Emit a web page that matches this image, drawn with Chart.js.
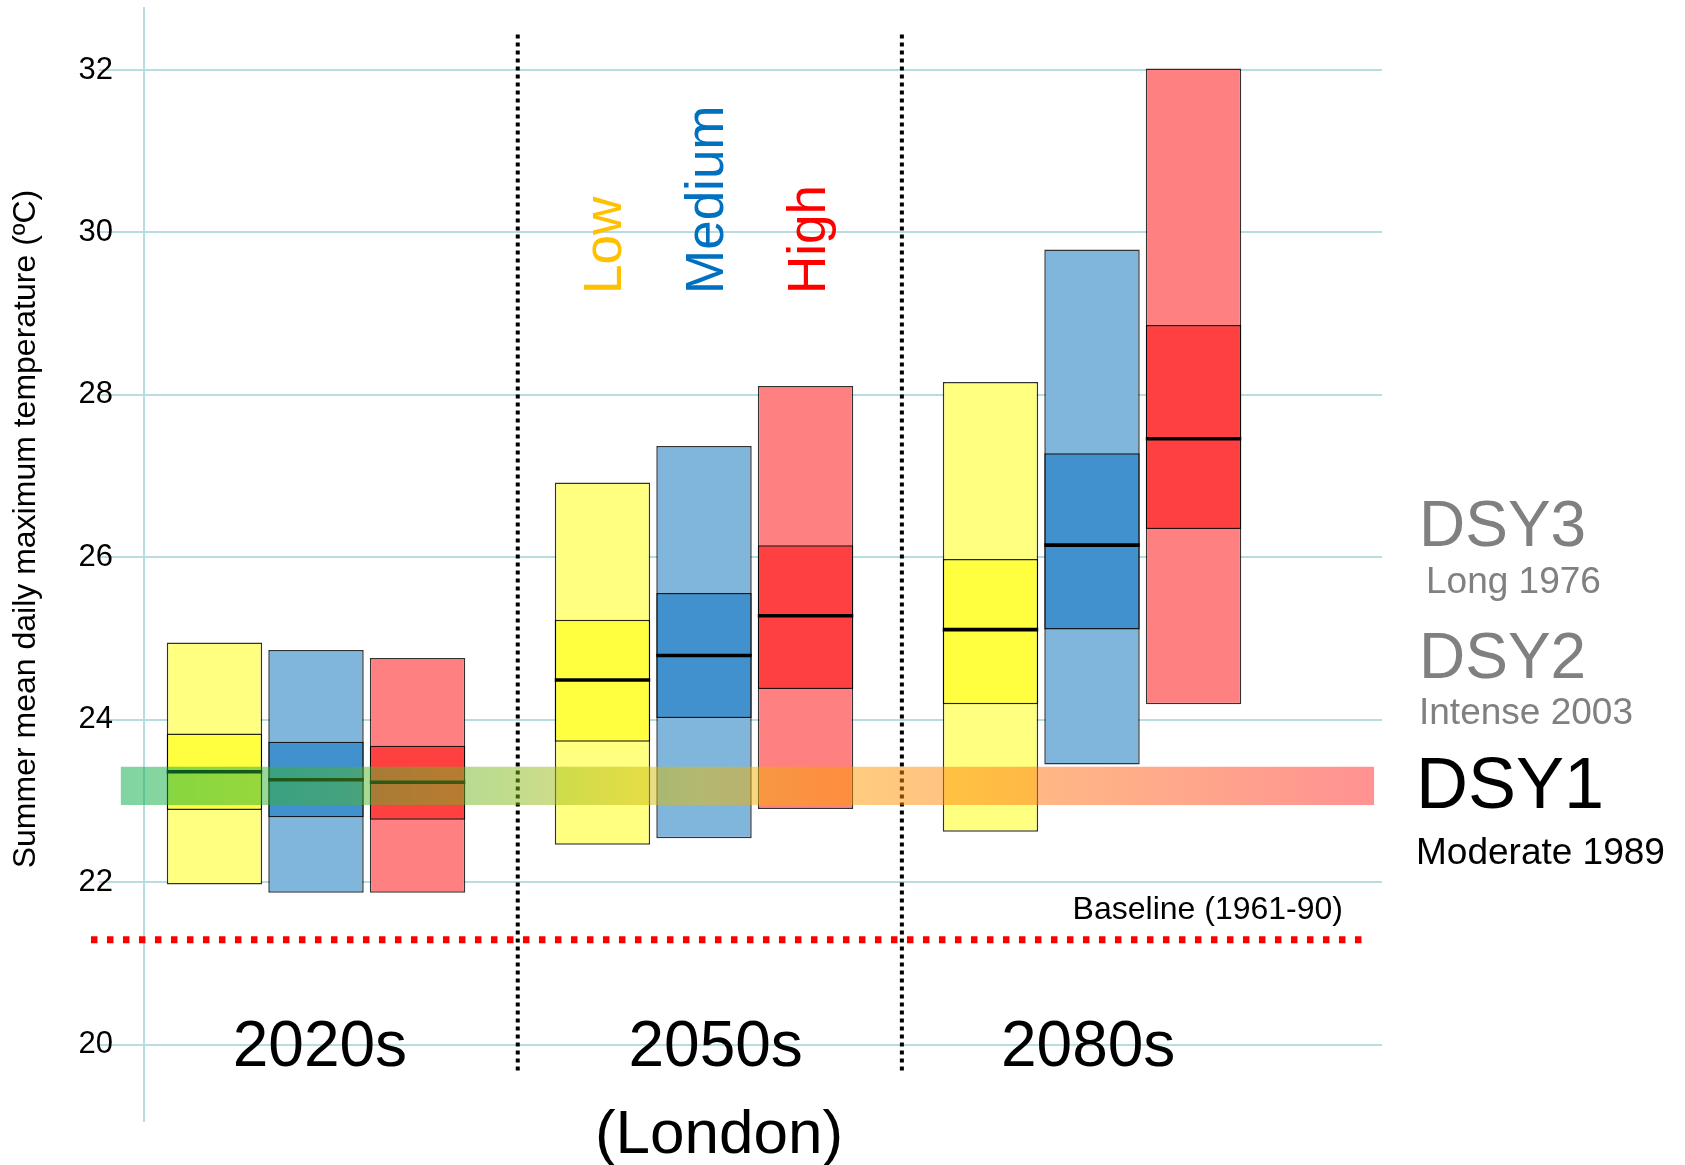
<!DOCTYPE html>
<html>
<head>
<meta charset="utf-8">
<script src="https://cdn.jsdelivr.net/npm/chart.js@4.4.1/dist/chart.umd.min.js"></script>
<style>
  html, body { margin: 0; padding: 0; background: #fff; }
  #wrap { width: 1685px; height: 1165px; position: relative; }
</style>
</head>
<body>
<div id="wrap"><canvas id="chart"></canvas></div>
<script>
// --- Data ---
const periods = ['2020s', '2050s', '2080s'];
const periodX = [1, 2, 3];
const periodLabelX = [1.01, 2.03, 2.99];
const scenarios = ['Low', 'Medium', 'High'];

// full range (light bars) per period
const lowRange = [[21.97, 24.95], [22.46, 26.92], [22.62, 28.16]];
const mediumRange = [[21.87, 24.86], [22.54, 27.37], [23.45, 29.79]];
const highRange = [[21.87, 24.76], [22.90, 28.11], [24.19, 32.02]];

// central range (dark bars)
const lowCore = [[22.89, 23.83], [23.73, 25.23], [24.19, 25.98]];
const mediumCore = [[22.80, 23.73], [24.02, 25.56], [25.11, 27.28]];
const highCore = [[22.77, 23.68], [24.38, 26.15], [26.35, 28.86]];

// central estimate (black line)
const lowMedian = [23.36, 24.49, 25.11];
const mediumMedian = [23.26, 24.79, 26.15];
const highMedian = [23.23, 25.28, 27.46];

const baselineTemp = 21.29;
const baselineSpan = [0.42, 3.70];
const dsy1Band = [22.95, 23.42];
const dsy1Span = [0.497, 3.727];
const dividerX = [1.52, 2.51];
const dividerSpan = [19.68, 32.44];
const yTicks = [20, 22, 24, 26, 28, 30, 32];

const yTitle = 'Summer mean daily maximum temperature (ºC)';
const xTitle = '(London)';
const baselineLabel = 'Baseline (1961-90)';

// --- Styles ---
const FONT = '"Liberation Sans", Arial, sans-serif';
const outerColors = ['#ffff80', '#80b5dc', '#ff8080'];
const innerColors = ['#ffff40', '#4091ce', '#ff4040'];
const labelColors = ['#ffc000', '#0070c0', '#ff0000'];
const gridColor = '#b7dde0';

const ranges = [lowRange, mediumRange, highRange];
const cores = [lowCore, mediumCore, highCore];
const medians = [lowMedian, mediumMedian, highMedian];
const medianHalf = 0.022;

const datasets = [];

// each scenario's range, core and median share one bar slot (stack id)
scenarios.forEach((name, i) => {
    datasets.push({
        type: 'bar', label: name + ' range', stack: name, order: 5,
        data: periodX.map((x, j) => ({ x, y: ranges[i][j] })),
        backgroundColor: outerColors[i],
        borderColor: 'rgba(0,0,0,0.8)', borderWidth: 1.5, borderSkipped: false
    });
});
scenarios.forEach((name, i) => {
    datasets.push({
        type: 'bar', label: name + ' core', stack: name, order: 4,
        data: periodX.map((x, j) => ({ x, y: cores[i][j] })),
        backgroundColor: innerColors[i],
        borderColor: 'rgba(0,0,0,0.85)', borderWidth: 1.5, borderSkipped: false
    });
});
scenarios.forEach((name, i) => {
    datasets.push({
        type: 'bar', label: name + ' median', stack: name, order: 3,
        data: periodX.map((x, j) => ({ x, y: [medians[i][j] - medianHalf, medians[i][j] + medianHalf] })),
        backgroundColor: '#000', borderWidth: 0
    });
});

// period dividers
dividerX.forEach(dx => {
    datasets.push({
        type: 'line', label: 'divider', order: 2, clip: false,
        data: [{ x: dx, y: dividerSpan[0] }, { x: dx, y: dividerSpan[1] }],
        borderColor: '#000', borderWidth: 4, borderDash: [4, 4],
        pointRadius: 0, fill: false
    });
});

// baseline (1961-90)
datasets.push({
    type: 'line', label: 'Baseline', order: 2, clip: false,
    data: [{ x: baselineSpan[0], y: baselineTemp }, { x: baselineSpan[1], y: baselineTemp }],
    borderColor: '#ff0000', borderWidth: 7, borderDash: [6.5, 9.5],
    pointRadius: 0, fill: false
});

// DSY1 band
const bandMid = (dsy1Band[0] + dsy1Band[1]) / 2;
datasets.push({
    type: 'line', label: 'DSY1', order: 1, clip: false,
    data: [{ x: dsy1Span[0], y: bandMid }, { x: dsy1Span[1], y: bandMid }],
    pointRadius: 0, fill: false, borderCapStyle: 'butt',
    borderWidth: (c) => {
        const ys = c.chart.scales.y;
        if (!ys) return 1;
        return Math.abs(ys.getPixelForValue(dsy1Band[0]) - ys.getPixelForValue(dsy1Band[1]));
    },
    borderColor: (c) => {
        const chart = c.chart;
        const xs = chart.scales.x;
        if (!xs || !chart.chartArea) return 'rgba(0,0,0,0)';
        const g = chart.ctx.createLinearGradient(xs.getPixelForValue(dsy1Span[0]), 0, xs.getPixelForValue(dsy1Span[1]), 0);
        g.addColorStop(0, 'rgba(0,171,70,0.5)');
        g.addColorStop(0.3, 'rgba(125,185,30,0.5)');
        g.addColorStop(0.46, 'rgba(232,187,5,0.5)');
        g.addColorStop(0.6, 'rgba(255,150,0,0.5)');
        g.addColorStop(1, 'rgba(255,38,38,0.5)');
        return g;
    }
});

// --- Text layer ---
const textLayer = {
    id: 'textLayer',
    afterDraw(chart) {
        const ctx = chart.ctx;
        const xs = chart.scales.x;
        const ys = chart.scales.y;
        ctx.save();
        ctx.fillStyle = '#000';

        // y axis title
        ctx.save();
        ctx.translate(35, 529);
        ctx.rotate(-Math.PI / 2);
        ctx.font = '32px ' + FONT;
        ctx.textAlign = 'center';
        ctx.textBaseline = 'alphabetic';
        ctx.fillText(yTitle, 0, 0);
        ctx.restore();

        // period labels
        ctx.font = '64px ' + FONT;
        ctx.textAlign = 'center';
        ctx.textBaseline = 'alphabetic';
        periods.forEach((p, j) => {
            ctx.fillText(p, xs.getPixelForValue(periodLabelX[j]), ys.getPixelForValue(20) + 21);
        });

        // x title
        ctx.font = '62px ' + FONT;
        ctx.fillText(xTitle, 719, 1153);

        // baseline label
        ctx.font = '32px ' + FONT;
        ctx.textAlign = 'right';
        ctx.fillText(baselineLabel, 1343, ys.getPixelForValue(baselineTemp) - 21);

        // scenario labels over the 2050s bars
        ctx.font = '53px ' + FONT;
        ctx.textAlign = 'left';
        scenarios.forEach((s, i) => {
            const bar = chart.getDatasetMeta(i).data[1];
            ctx.save();
            ctx.translate(bar.x + 19, 294);
            ctx.rotate(-Math.PI / 2);
            ctx.fillStyle = labelColors[i];
            ctx.fillText(s, 0, 0);
            ctx.restore();
        });

        // design summer year labels
        ctx.textAlign = 'left';
        ctx.fillStyle = '#808080';
        ctx.font = '64px ' + FONT;
        ctx.fillText('DSY3', 1419, 546);
        ctx.fillText('DSY2', 1419, 678);
        ctx.font = '37px ' + FONT;
        ctx.fillText('Long 1976', 1426, 593);
        ctx.fillText('Intense 2003', 1419, 724);
        ctx.fillStyle = '#000';
        ctx.font = '72px ' + FONT;
        ctx.fillText('DSY1', 1416, 808);
        ctx.font = '37px ' + FONT;
        ctx.fillText('Moderate 1989', 1416, 864);

        ctx.restore();
    }
};

// --- Chart ---
new Chart(document.getElementById('chart'), {
    type: 'bar',
    data: { datasets },
    options: {
        responsive: true,
        maintainAspectRatio: false,
        animation: false,
        categoryPercentage: 0.785,
        barPercentage: 0.94,
        layout: { padding: { left: 0, right: 303, top: 8, bottom: 44 } },
        plugins: {
            legend: { display: false },
            tooltip: { enabled: false }
        },
        scales: {
            x: {
                type: 'linear', display: false, offset: false, min: 0.5567, max: 3.7474,
                afterBuildTicks: (scale) => { scale.ticks = periodX.map(v => ({ value: v })); }
            },
            y: {
                type: 'linear',
                stacked: false,
                min: 19.059,
                max: 32.764,
                afterBuildTicks: (scale) => { scale.ticks = yTicks.map(v => ({ value: v })); },
                afterFit: (scale) => { scale.width = 144; },
                grid: { color: gridColor, lineWidth: 2, tickLength: 45, tickColor: gridColor },
                border: { display: true, color: gridColor, width: 2 },
                ticks: {
                    color: '#000',
                    padding: -14,
                    font: { family: FONT, size: 31 }
                }
            }
        }
    },
    plugins: [textLayer]
});
</script>
</body>
</html>
